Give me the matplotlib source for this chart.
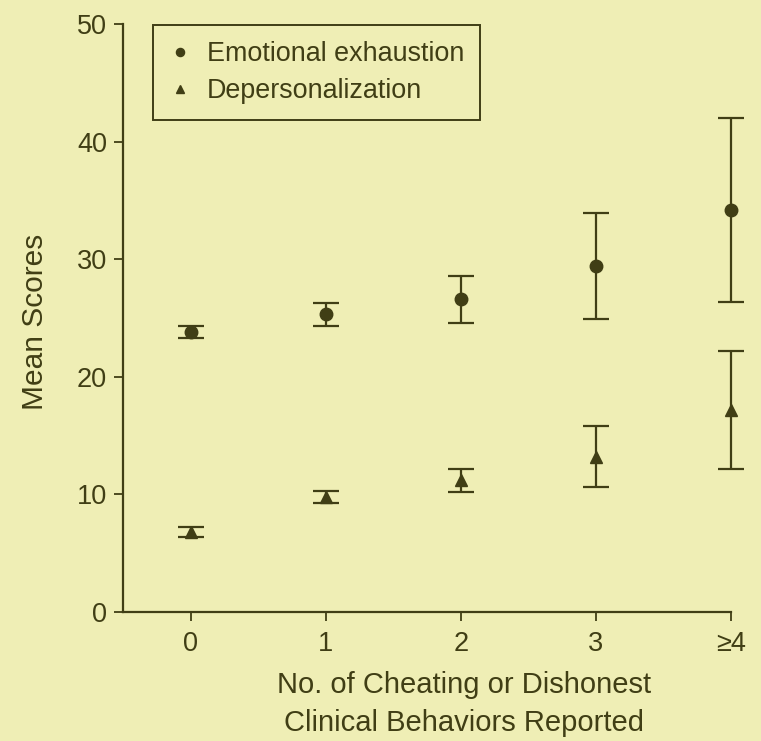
import numpy as np
import matplotlib.pyplot as plt

plt.rcParams['font.family'] = ['Liberation Sans', 'DejaVu Sans']

# Data
categories = ['0', '1', '2', '3', '\u22654']
exhaustion = [23.8, 25.3, 26.6, 29.4, 34.2]
exhaustion_err = [0.5, 1.0, 2.0, 4.5, 7.8]
depersonal = [6.8, 9.8, 11.2, 13.2, 17.2]
depersonal_err = [0.4, 0.5, 1.0, 2.6, 5.0]

bg = '#efeeb5'
ink = '#403e15'

fig = plt.figure(figsize=(7.61, 7.41), dpi=100, facecolor=bg)
ax = fig.add_axes([0.1616, 0.1741, 0.799, 0.7935], facecolor=bg)

x = np.arange(len(categories))
for y, err in [(exhaustion, exhaustion_err), (depersonal, depersonal_err)]:
    eb = ax.errorbar(x, y, yerr=err, fmt='none', ecolor=ink, capsize=9.5,
                     elinewidth=1.6, capthick=1.6)
    for art in eb.get_children():
        art.set_clip_on(False)

h1, = ax.plot(x, exhaustion, 'o', color=ink, markersize=9, clip_on=False,
              label='Emotional exhaustion')
h2, = ax.plot(x, depersonal, '^', color=ink, markersize=9, clip_on=False,
              label='Depersonalization')

ax.set_xlim(-0.5, 4.0)
ax.set_ylim(0, 50)
ax.set_xticks(x)
ax.set_xticklabels(categories)
ax.set_yticks(np.arange(0, 51, 10))

for s in ['top', 'right']:
    ax.spines[s].set_visible(False)
for s in ['left', 'bottom']:
    ax.spines[s].set_color(ink)
    ax.spines[s].set_linewidth(1.6)
ax.tick_params(colors=ink, labelsize=19.5, length=6.5, width=1.3)
ax.tick_params(axis='x', pad=7)
ax.tick_params(axis='y', pad=5)

fig.text(35 / 761, 1 - 322 / 741, 'Mean Scores', rotation=90, ha='center',
         va='center', fontsize=21.5, color=ink)
fig.text(464 / 761, 1 - 704 / 741,
         'No. of Cheating or Dishonest\nClinical Behaviors Reported',
         ha='center', va='center', multialignment='center', fontsize=21,
         linespacing=1.45, color=ink)

leg = ax.legend(handles=[h1, h2], loc='upper left',
                bbox_to_anchor=(0.049, 0.998), borderaxespad=0, fontsize=19.4,
                frameon=True, fancybox=False, handlelength=0.8,
                handletextpad=0.6, borderpad=0.6, labelspacing=0.4,
                markerscale=0.65)
leg.get_frame().set_edgecolor(ink)
leg.get_frame().set_facecolor(bg)
leg.get_frame().set_linewidth(1.4)
leg.get_frame().set_alpha(1)
for t in leg.get_texts():
    t.set_color(ink)

fig.savefig('out.png', dpi=100, facecolor=bg)
